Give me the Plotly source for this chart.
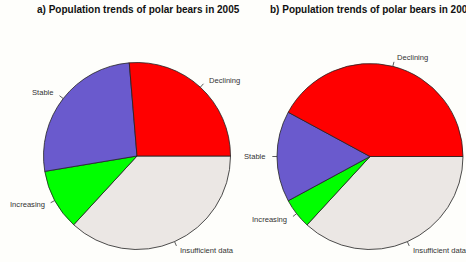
import math
import plotly.graph_objects as go

categories = ["Declining", "Stable", "Increasing", "Insufficient data"]
values_2005 = [5, 5, 2, 7]
values_2009 = [8, 3, 1, 7]
colors = ["#FF0000", "#6A5ACD", "#00FF00", "#EBE7E4"]
titles = ["a) Population trends of polar bears in 2005",
          "b) Population trends of polar bears in 2009"]

W, H = 466, 262
BG = "#FEFEFB"
# pie centres / radius in pixels
pies = [(values_2005, 137, 156, 93.5), (values_2009, 370, 156.5, 93)]

fig = go.Figure()
annotations = []
shapes = []
for i, (vals, cx, cy, r) in enumerate(pies):
    # R draws counter-clockwise from 3 o'clock; same as clockwise with reversed order
    fig.add_trace(go.Pie(
        labels=categories[::-1], values=vals[::-1], sort=False, direction="clockwise",
        rotation=90, textinfo="none", hoverinfo="label+value",
        marker=dict(colors=colors[::-1], line=dict(color="#222222", width=0.8)),
        domain=dict(x=[(cx - r) / W, (cx + r) / W], y=[1 - (cy + r) / H, 1 - (cy - r) / H]),
        showlegend=False,
    ))
    total = sum(vals)
    cum = 0
    for lab, v in zip(categories, vals):
        mid = (cum + v / 2) / total * 2 * math.pi
        cum += v
        c, s = math.cos(mid), math.sin(mid)
        shapes.append(dict(type="line", xref="paper", yref="paper",
                           x0=(cx + r * c) / W, y0=1 - (cy - r * s) / H,
                           x1=(cx + 1.05 * r * c) / W, y1=1 - (cy - 1.05 * r * s) / H,
                           line=dict(color="#333333", width=0.8)))
        annotations.append(dict(
            x=(cx + 1.1 * r * c) / W, y=1 - (cy - 1.1 * r * s) / H,
            xref="paper", yref="paper", text=lab, showarrow=False,
            xanchor="left" if c > 0 else "right", yanchor="middle",
            font=dict(family="Liberation Sans, Arial", size=7.6, color="#333333")))
    annotations.append(dict(
        x=(cx + 1) / W, y=1 - 9 / H, xref="paper", yref="paper",
        text="<b>" + titles[i] + "</b>", showarrow=False,
        xanchor="center", yanchor="middle",
        font=dict(family="Liberation Sans, Arial", size=10, color="#111111")))

fig.update_layout(
    width=W, height=H, margin=dict(l=0, r=0, t=0, b=0),
    paper_bgcolor=BG, plot_bgcolor=BG,
    annotations=annotations, shapes=shapes,
)
fig.write_html("out.html", config={"displayModeBar": False},
               post_script="document.body.style.margin='0';")
